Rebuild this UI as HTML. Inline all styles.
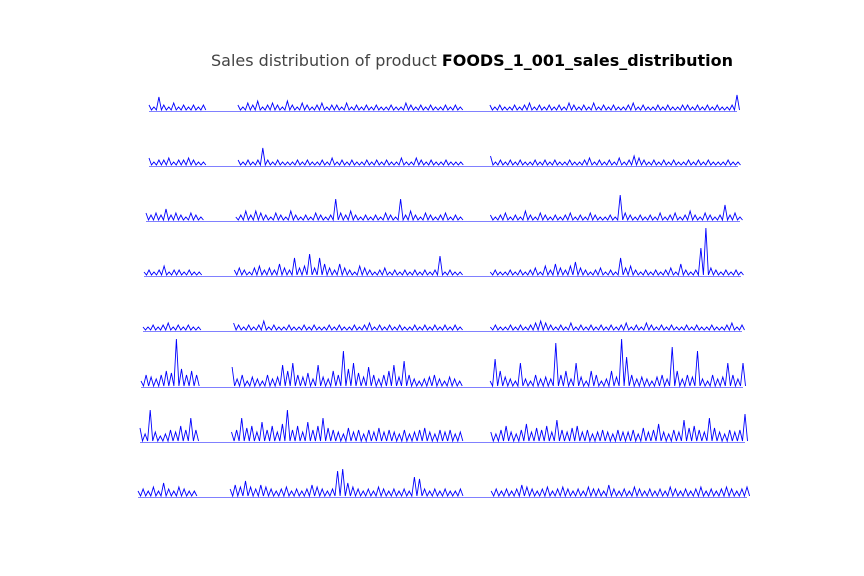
<!DOCTYPE html>
<html><head><meta charset="utf-8"><style>
body{margin:0;background:#fff;}
svg{display:block;font-family:"DejaVu Sans","Liberation Sans",sans-serif;}
</style></head><body>
<svg id="chart" width="864" height="576">
<text x="211" y="66" font-size="16" textLength="522" lengthAdjust="spacingAndGlyphs"><tspan fill="#444">Sales distribution of product </tspan><tspan font-weight="bold" fill="#000">FOODS_1_001_sales_distribution</tspan></text>
<g id="rows"></g>
</svg>
<script>
const n = null;
const storeLabels = ["CA_1","CA_2","CA_3","CA_4","TX_1","TX_2","TX_3","WI_1"];
const sales1 = [3,2,7,3,2,4,2,3,2,3,2,3, n,n,n,n,n,n, 3,2,4,3,5,2,3,4,3,2,5,3,2,4,3,2,3,4,2,3,3,2,4,2,3,2,3,2,3,2,2,3,2,2,4,3,2,3,2,3,2,2,3,2,3,2, n,n,n,n,n, 3,2,3,2,2,3,2,3,4,2,3,2,3,2,3,2,4,3,2,3,2,4,2,3,2,3,2,2,3,4,2,3,2,2,3,2,3,2,2,3,3,2,3,2,3,2,3,2,2,3,8];
const sales2 = [4,2,3,3,4,2,3,3,4,3,2,2, n,n,n,n,n,n, 3,2,3,2,3,9,3,2,3,2,2,2,3,2,3,2,2,3,2,4,2,3,2,3,2,2,3,2,3,2,3,2,2,4,2,2,4,3,2,3,2,2,3,2,2,2, n,n,n,n,n, 5,2,3,2,3,2,3,2,2,3,2,3,2,3,2,2,3,2,2,3,4,2,3,2,3,2,4,2,3,5,4,3,2,3,2,3,2,3,2,2,3,2,3,2,3,2,2,2,3,2,2];
const sales3 = [4,3,4,3,6,3,4,3,2,4,3,2, n,n,n,n,n,n, 2,3,5,3,5,4,3,2,4,3,2,5,3,2,3,2,4,3,2,3,11,4,3,5,3,2,3,2,3,2,4,3,2,11,3,5,3,2,4,3,2,3,4,2,3,2, n,n,n,n,n, 3,2,3,4,2,3,2,5,3,2,4,3,2,3,2,3,4,2,3,2,4,3,2,2,3,2,13,4,3,2,3,2,3,2,4,2,3,4,2,3,5,3,2,4,3,2,3,8,3,4,2];
const sales4 = [2,3,2,3,5,2,3,3,2,3,2,2, n,n,n,n,n,n, 3,4,3,2,4,5,3,4,3,6,4,3,9,4,5,11,4,9,6,4,3,6,4,3,2,5,4,3,2,3,4,2,3,2,3,2,3,2,3,2,3,10,2,3,2,2, n,n,n,n,n, 2,3,2,2,3,2,3,2,3,4,2,5,3,6,4,3,5,7,4,3,2,3,4,2,3,2,9,4,5,3,2,3,2,3,2,3,4,2,6,3,2,3,14,24,4,3,2,3,2,3,2];
const sales5 = [2,2,3,2,3,4,2,3,2,3,2,2, n,n,n,n,n,n, 4,3,2,3,2,3,5,2,3,2,2,3,2,2,3,2,3,2,2,3,2,3,2,2,3,2,3,4,2,3,2,3,2,3,2,2,3,2,3,2,3,2,3,2,3,2, n,n,n,n,n, 2,3,2,2,3,2,3,2,3,4,5,4,3,2,3,2,4,2,3,2,3,2,3,2,3,2,3,4,2,3,2,4,3,2,3,2,3,2,2,3,2,3,2,2,3,2,2,3,4,2,3];
const sales6 = [3,6,5,4,6,8,7,24,9,6,8,6, n,n,n,n,n,n, 10,4,6,3,5,4,3,6,4,5,11,8,12,6,5,7,4,11,5,4,8,6,18,9,12,7,5,10,6,4,6,8,11,5,13,6,4,3,4,5,6,4,3,5,4,3, n,n,n,n,n, 3,14,8,5,4,3,12,4,3,6,4,5,4,22,6,8,4,12,5,3,8,6,3,4,8,5,24,15,6,4,5,4,3,5,6,4,20,8,4,6,5,18,4,3,6,4,5,12,6,4,12];
const sales7 = [7,4,16,5,3,4,6,5,8,6,12,6, n,n,n,n,n,n, 5,6,12,7,8,5,10,6,8,5,9,16,6,8,5,10,6,8,12,7,6,5,4,7,5,6,4,6,5,7,5,6,5,4,6,4,5,6,7,5,4,6,5,6,4,5, n,n,n,n,n, 5,4,6,8,5,4,6,9,5,7,6,8,5,11,6,5,7,8,5,6,4,5,6,5,4,6,5,5,6,4,7,5,6,9,5,4,6,5,11,7,8,6,5,12,7,5,4,6,5,6,14];
const sales8 = [3,4,3,5,3,7,4,3,5,4,3,3, n,n,n,n,n,n, 4,6,5,8,5,4,6,5,4,3,4,5,3,4,3,4,6,5,4,3,4,13,14,7,5,4,3,4,3,5,4,3,4,3,4,3,10,9,4,3,4,3,4,3,3,4, n,n,n,n,n, 3,4,3,4,3,4,6,5,4,3,4,5,3,4,5,4,3,4,3,5,4,4,3,6,4,3,4,3,5,4,3,4,3,4,3,5,4,3,4,3,4,5,3,4,3,4,5,4,3,4,5];
const allSales = [sales1,sales2,sales3,sales4,sales5,sales6,sales7,sales8];

const NS = "http://www.w3.org/2000/svg";
const g = document.getElementById("rows");
const layout = [[149,737,111],[149,738,166],[146,740,221],[144,741,276],[143,742,331],[141,743,387],[140,745,442],[138,747,497]];
const yScale = v => v * 2;

allSales.forEach((data, r) => {
  const [xs, xe, base] = layout[r];
  const step = (xe - xs) / (data.length - 1);
  const xScale = i => xs + i * step;
  const grp = document.createElementNS(NS, "g");
  
  
  const bl = document.createElementNS(NS, "line");
  bl.setAttribute("x1", xs); bl.setAttribute("x2", xe);
  bl.setAttribute("y1", base + 0.5); bl.setAttribute("y2", base + 0.5);
  bl.setAttribute("stroke", "#8080ff"); bl.setAttribute("stroke-width", "1");
  
  
  grp.appendChild(bl);
  let pts = [];
  const segs = [];
  data.forEach((v, i) => {
    if (v === null) { if (pts.length) segs.push(pts); pts = []; return; }
    const x = xScale(i);
    pts.push(x.toFixed(1) + "," + (base - yScale(v)).toFixed(1));
    pts.push((x + step / 2).toFixed(1) + "," + (base - 1).toFixed(1));
  });
  if (pts.length) segs.push(pts);
  segs.forEach(s => {
    const pl = document.createElementNS(NS, "polyline");
    pl.setAttribute("points", s.join(" "));
    pl.setAttribute("fill", "none");
    pl.setAttribute("stroke", "#0000ff");
    pl.setAttribute("stroke-width", "0.9");
    
    
    grp.appendChild(pl);
  });
  g.appendChild(grp);
});
</script>
</body></html>
